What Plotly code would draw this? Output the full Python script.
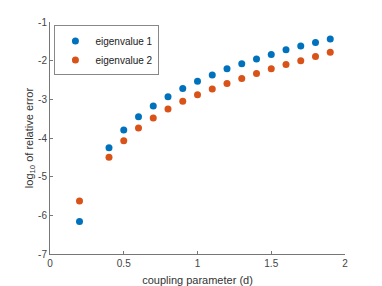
import plotly.graph_objects as go

d1 = [0.2, 0.4, 0.5, 0.6, 0.7, 0.8, 0.9, 1.0, 1.1, 1.2, 1.3, 1.4, 1.5, 1.6, 1.7, 1.8, 1.9]
ev1 = [-6.16, -4.25, -3.79, -3.45, -3.17, -2.93, -2.72, -2.53, -2.37, -2.21, -2.08, -1.96, -1.84, -1.72, -1.62, -1.53, -1.44]
ev2 = [-5.63, -4.50, -4.07, -3.74, -3.48, -3.25, -3.05, -2.88, -2.73, -2.59, -2.46, -2.33, -2.21, -2.10, -2.00, -1.89, -1.78]
xticks = [0, 0.5, 1, 1.5, 2]
xticklabels = ["0", "0.5", "1", "1.5", "2"]
yticks = [-7, -6, -5, -4, -3, -2, -1]
yticklabels = ["-7", "-6", "-5", "-4", "-3", "-2", "-1"]

fig = go.Figure()
fig.add_trace(go.Scatter(x=d1, y=ev1, mode="markers", name="eigenvalue 1",
                         marker=dict(color="#0072BD", size=7)))
fig.add_trace(go.Scatter(x=d1, y=ev2, mode="markers", name="eigenvalue 2",
                         marker=dict(color="#D95319", size=7)))

axis_common = dict(showgrid=False, zeroline=False, showline=True, linecolor="#777777",
                   linewidth=1, ticks="inside", ticklen=3, tickcolor="#777777",
                   tickfont=dict(size=10, color="#444444"), mirror=False)
fig.update_xaxes(range=[0, 2], tickvals=xticks, ticktext=xticklabels, automargin=False,
                 title=dict(text="coupling parameter (d)", font=dict(size=11, color="#333333")),
                 **axis_common)
fig.update_yaxes(range=[-7, -1], tickvals=yticks, ticktext=yticklabels, automargin=True,
                 title=dict(text="log<sub>10</sub> of relative error", font=dict(size=11, color="#333333"),
                            standoff=2),
                 **axis_common)
fig.update_layout(
    width=382, height=286,
    margin=dict(l=50, r=37, t=22, b=32),
    paper_bgcolor="white", plot_bgcolor="white",
    font=dict(family="Liberation Sans, Arial, sans-serif"),
    showlegend=True,
    legend=dict(x=0.015, y=0.985, xanchor="left", yanchor="top",
                bordercolor="#888888", borderwidth=1, bgcolor="white",
                font=dict(size=10, color="#222222"), tracegroupgap=0,
                itemwidth=30),
)
fig.write_html("out.html", config={"displayModeBar": False},
               post_script="document.body.style.margin='0';document.body.style.overflow='hidden';")
